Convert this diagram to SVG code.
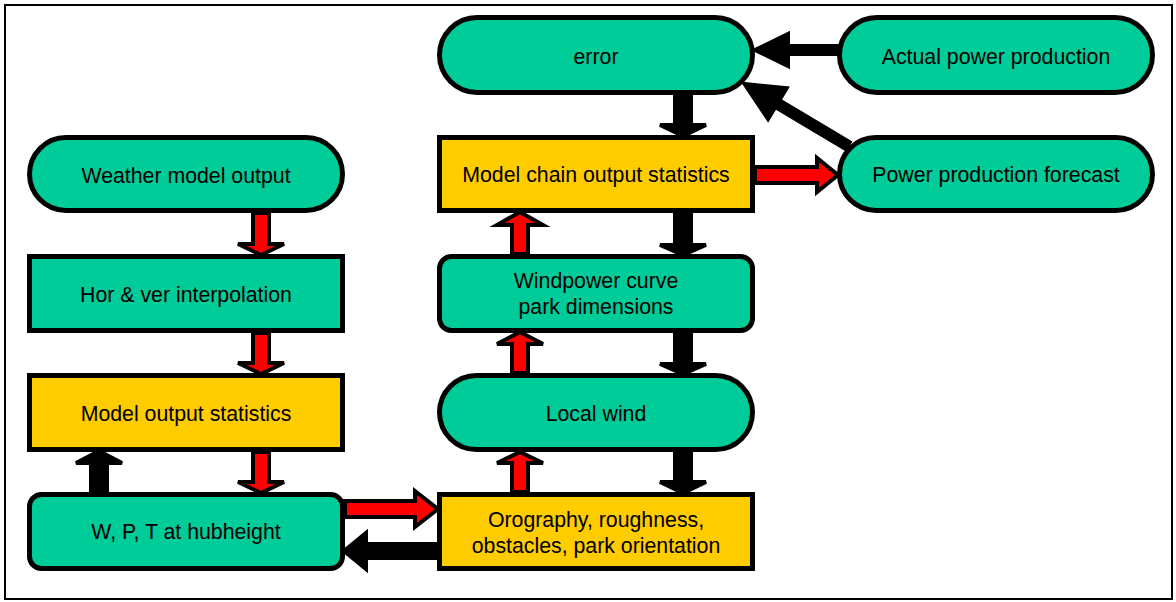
<svg xmlns="http://www.w3.org/2000/svg" width="1176" height="602" viewBox="0 0 1176 602">
  <style>
    .bg { fill: #ffffff; }
    .frame { fill: none; stroke: #000; stroke-width: 2; }
    .green { fill: #00cc99; stroke: #000; stroke-width: 5; }
    .yellow { fill: #ffcc00; stroke: #000; stroke-width: 5; }
    .red { fill: #ff0000; stroke: #000; stroke-width: 4; stroke-linejoin: miter; }
    .black { fill: #000; stroke: #000; stroke-width: 4; stroke-linejoin: miter; }
    text { font-family: "Liberation Sans", Arial, sans-serif; font-size: 21.3px; fill: #000; text-anchor: middle; }
  </style>

  <rect class="bg" x="0" y="0" width="1176" height="602"/>
  <rect class="frame" x="5" y="5" width="1167" height="594"/>

  <g id="node-weather">
    <rect class="green" x="29.5" y="137.5" width="313" height="73" rx="36.5"/>
    <text x="186" y="183">Weather model output</text>
  </g>
  <g id="node-interpolation">
    <rect class="green" x="29.5" y="256.5" width="313" height="74"/>
    <text x="186" y="302">Hor &amp; ver interpolation</text>
  </g>
  <g id="node-mos">
    <rect class="yellow" x="29.5" y="375.5" width="313" height="74"/>
    <text x="186" y="421">Model output statistics</text>
  </g>
  <g id="node-hubheight">
    <rect class="green" x="29.5" y="494.5" width="313" height="74" rx="12"/>
    <text x="186" y="539">W, P, T at hubheight</text>
  </g>

  <g id="node-error">
    <rect class="green" x="439.5" y="17.5" width="313" height="75" rx="37.5"/>
    <text x="596" y="64">error</text>
  </g>
  <g id="node-chain-mos">
    <rect class="yellow" x="439.5" y="137.5" width="313" height="73"/>
    <text x="596" y="182">Model chain output statistics</text>
  </g>
  <g id="node-powercurve">
    <rect class="green" x="439.5" y="256.5" width="313" height="74" rx="12"/>
    <text x="596" y="288">Windpower curve</text>
    <text x="596" y="314">park dimensions</text>
  </g>
  <g id="node-localwind">
    <rect class="green" x="439.5" y="375.5" width="313" height="74" rx="37"/>
    <text x="596" y="421">Local wind</text>
  </g>
  <g id="node-orography">
    <rect class="yellow" x="439.5" y="494.5" width="313" height="74"/>
    <text x="596" y="527">Orography, roughness,</text>
    <text x="596" y="553">obstacles, park orientation</text>
  </g>

  <g id="node-actual">
    <rect class="green" x="839.5" y="17.5" width="313" height="75" rx="37.5"/>
    <text x="996" y="64">Actual power production</text>
  </g>
  <g id="node-forecast">
    <rect class="green" x="839.5" y="137.5" width="313" height="73" rx="36.5"/>
    <text x="996" y="182">Power production forecast</text>
  </g>

  <!-- block arrows, drawn over the node outlines they start and end on -->
  <g id="connectors">
    <!-- left column -->
    <polygon class="red" points="253,213 269,213 269,244 284,244 261,255 238,244 253,244"/>
    <polygon class="red" points="253,333 269,333 269,363 284,363 261,374 238,363 253,363"/>
    <polygon class="red" points="253,452 269,452 269,482 284,482 261,493 238,482 253,482"/>
    <polygon class="black" points="91,492 107,492 107,463 122,463 99,451 76,463 91,463"/>
    <!-- middle column, downward -->
    <polygon class="black" points="675,95 691,95 691,125 706,125 683,136 660,125 675,125"/>
    <polygon class="black" points="675,213 691,213 691,245 706,245 683,255 660,245 675,245"/>
    <polygon class="black" points="675,333 691,333 691,364 706,364 683,374 660,364 675,364"/>
    <polygon class="black" points="675,452 691,452 691,482 706,482 683,493 660,482 675,482"/>
    <!-- middle column, upward -->
    <polygon class="red" points="512,492 528,492 528,463 543,463 520,452 497,463 512,463"/>
    <polygon class="red" points="512,373 528,373 528,344 543,344 520,332 497,344 512,344"/>
    <polygon class="red" points="512,254 528,254 528,225 543,225 520,212 497,225 512,225"/>
    <!-- horizontal -->
    <polygon class="red" points="345,501 415,501 415,491 438,509 415,527 415,517 345,517"/>
    <polygon class="black" points="437,544 366,544 366,533 344,551 366,569 366,558 437,558"/>
    <polygon class="red" points="755,167 817,167 817,158 838,175 817,192 817,183 755,183"/>
    <polygon class="black" points="837,46 788,46 788,34 755,50 788,66 788,54 837,54"/>
    <!-- forecast to error -->
    <polygon class="black" transform="translate(743,83) rotate(30.9)" points="2,0 40,-18 40,-4 122,-4 122,4 40,4 40,18"/>
  </g>
</svg>
